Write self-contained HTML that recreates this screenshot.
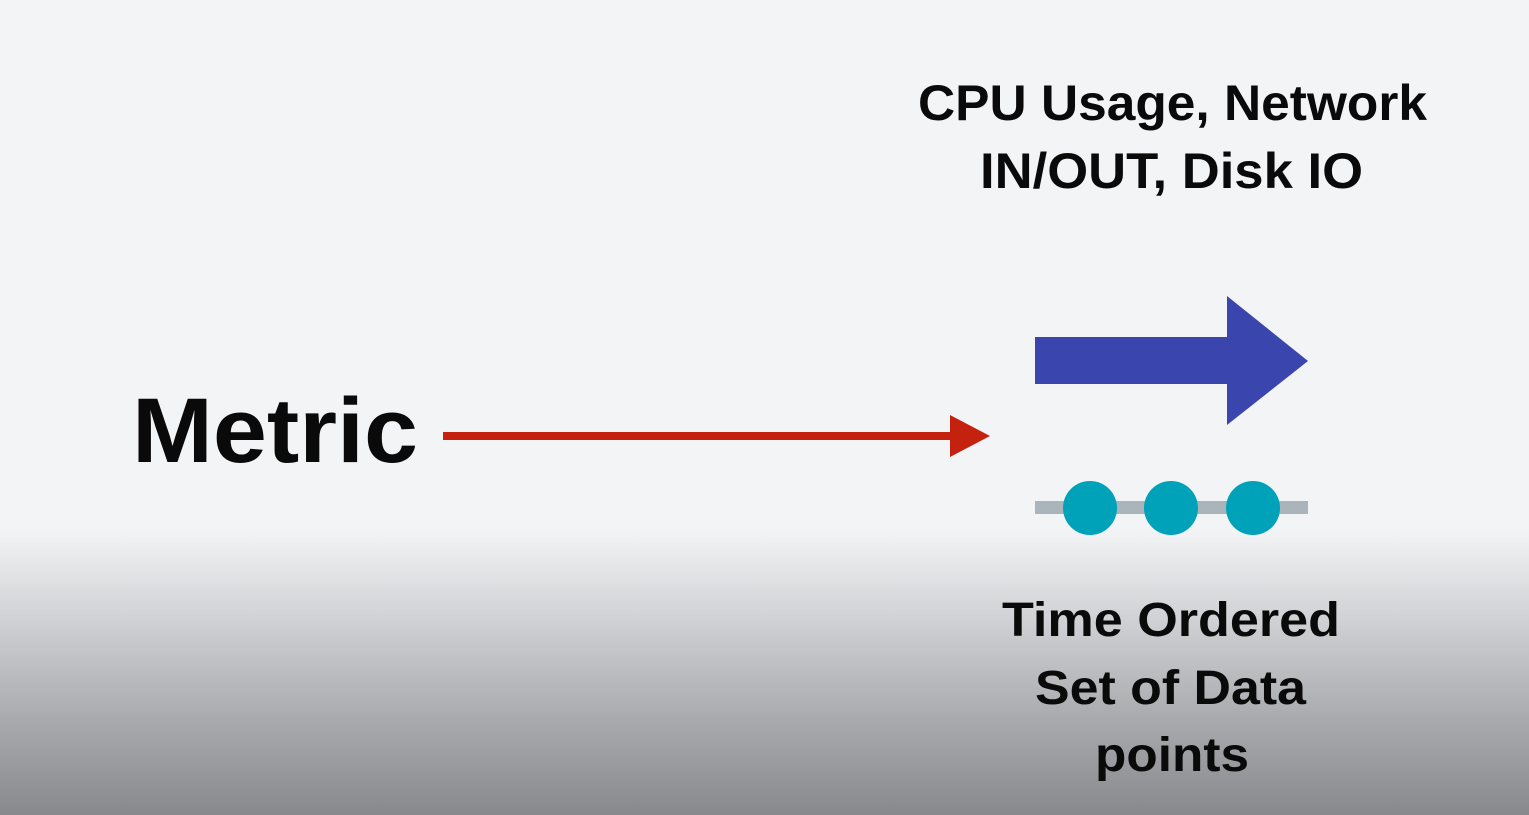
<!DOCTYPE html>
<html><head><meta charset="utf-8"><style>
html,body{margin:0;padding:0;}
body{width:1529px;height:815px;overflow:hidden;background:linear-gradient(to bottom,#f3f4f6 0px,#f3f4f6 530px,#d0d1d4 620px,#a9aaad 720px,#88898d 815px);}
svg{display:block;}
text{font-family:"Liberation Sans",sans-serif;font-weight:bold;fill:#0a0a0a;}
</style></head><body>
<svg width="1529" height="815" viewBox="0 0 1529 815">
<text x="918" y="120" font-size="50" textLength="509" lengthAdjust="spacingAndGlyphs">CPU Usage, Network</text>
<text x="980" y="188" font-size="50" textLength="383" lengthAdjust="spacingAndGlyphs">IN/OUT, Disk IO</text>
<text x="132" y="462" font-size="92" textLength="286" lengthAdjust="spacingAndGlyphs">Metric</text>
<rect x="443" y="432" width="510" height="8" fill="#c4210f"/>
<polygon points="950,415 990,436 950,457" fill="#c4210f"/>
<rect x="1035" y="337" width="194" height="47" fill="#3a46ad"/>
<polygon points="1227,296 1308,361 1227,425" fill="#3a46ad"/>
<rect x="1035" y="501" width="273" height="13" fill="#a9b4bb"/>
<circle cx="1090" cy="508" r="27" fill="#00a2b9"/>
<circle cx="1171" cy="508" r="27" fill="#00a2b9"/>
<circle cx="1253" cy="508" r="27" fill="#00a2b9"/>
<text x="1002" y="636" font-size="48" textLength="338" lengthAdjust="spacingAndGlyphs">Time Ordered</text>
<text x="1035" y="704" font-size="48" textLength="271" lengthAdjust="spacingAndGlyphs">Set of Data</text>
<text x="1095" y="771" font-size="48" textLength="154" lengthAdjust="spacingAndGlyphs">points</text>
</svg>
</body></html>
